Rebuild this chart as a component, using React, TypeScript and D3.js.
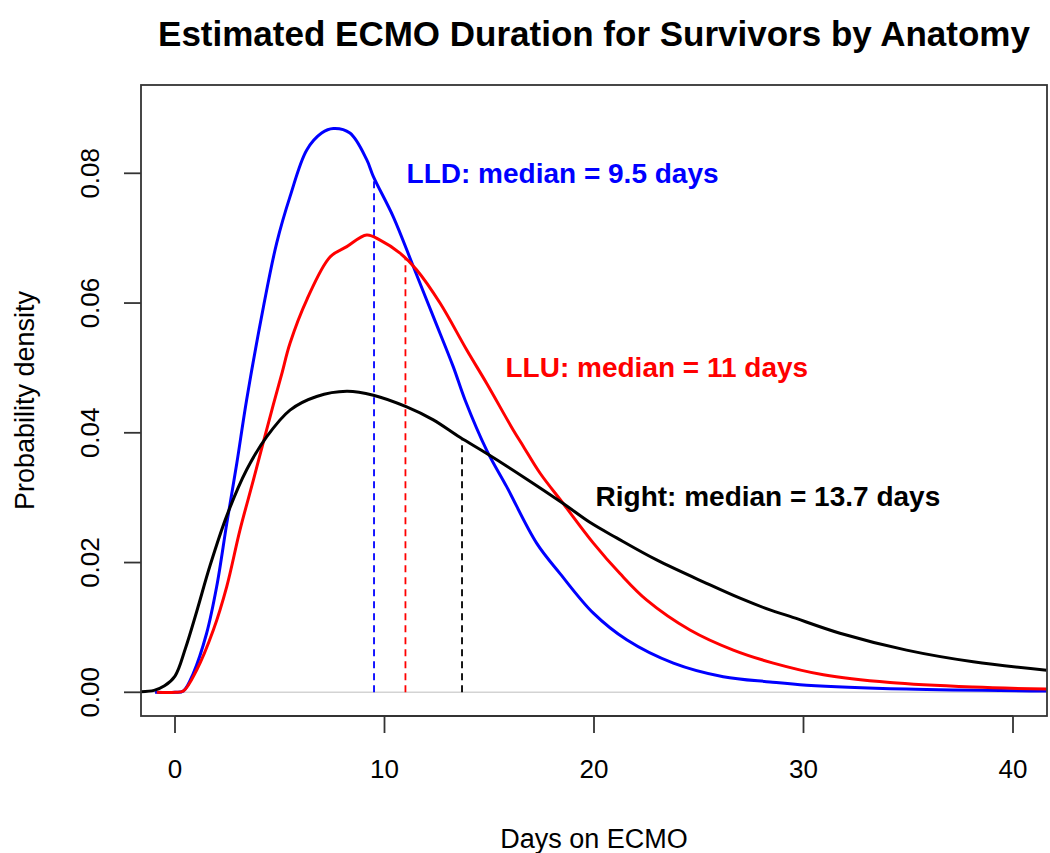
import React from "react";
import * as d3 from "d3";

const title = "Estimated ECMO Duration for Survivors by Anatomy";
const xLabel = "Days on ECMO";
const yLabel = "Probability density";
const xTicks = [0, 10, 20, 30, 40];
const yTicks = [0, 0.02, 0.04, 0.06, 0.08];
const yTickLabels = ["0.00", "0.02", "0.04", "0.06", "0.08"];

const seriesNames = ["LLD", "LLU", "Right"];
const seriesColors = ["#0000ff", "#ff0000", "#000000"];
const medians = [9.5, 11, 13.7];
const labelTexts = ["LLD: median = 9.5 days", "LLU: median = 11 days", "Right: median = 13.7 days"];
const labelX = [18.5, 23.0, 28.3];
const labelY = [0.08, 0.05, 0.0302];

const lldCurve: [number, number][] = [
  [-0.95, 0], [0, 0], [0.4, 0.0002], [0.87, 0.0029], [1.51, 0.0091], [1.99, 0.0163],
  [2.47, 0.026], [2.95, 0.0353], [3.42, 0.0451], [4.22, 0.0594], [4.85, 0.0692],
  [5.49, 0.0764], [6.29, 0.0836], [7.0, 0.0862], [7.56, 0.0869], [8.35, 0.0862],
  [9.15, 0.0821], [9.47, 0.0795], [10.42, 0.0733], [11.38, 0.0656], [12.33, 0.0579],
  [13.28, 0.0502], [13.84, 0.0451], [14.88, 0.0373], [15.83, 0.0317], [17.26, 0.023],
  [18.38, 0.0183], [19.97, 0.0122], [21.56, 0.0081], [23.79, 0.0045], [26.17, 0.0024],
  [28.4, 0.0016], [30.15, 0.0011], [34.9, 0.0005], [41.6, 0.0002],
];

const lluCurve: [number, number][] = [
  [-0.87, 0], [0, 0], [0.4, 0.0002], [1.03, 0.0034], [1.83, 0.0096], [2.47, 0.0163],
  [3.1, 0.025], [3.74, 0.0327], [4.22, 0.0386], [4.69, 0.0443], [5.09, 0.049],
  [5.49, 0.0538], [6.29, 0.0605], [7.4, 0.0671], [8.2, 0.0687], [9.15, 0.0705],
  [9.79, 0.0697], [10.74, 0.0677], [11.54, 0.0651], [12.65, 0.06], [13.92, 0.0528],
  [14.88, 0.0476], [16.15, 0.0404], [16.63, 0.0379], [17.42, 0.0338], [18.53, 0.0291],
  [19.97, 0.023], [21.24, 0.0183], [22.52, 0.0142], [24.58, 0.0096], [26.65, 0.0065],
  [28.56, 0.0045], [30.95, 0.0027], [34.13, 0.0015], [38.1, 0.0008], [41.6, 0.0005],
];

const rightCurve: [number, number][] = [
  [-1.67, 0.0001], [-1.0, 0.0003], [-0.5, 0.001], [0.0, 0.0025], [0.5, 0.0068],
  [1.04, 0.0125], [1.67, 0.0195], [2.47, 0.0272], [3.42, 0.0343], [4.38, 0.0394],
  [5.49, 0.0435], [6.76, 0.0456], [8.2, 0.0464], [9.47, 0.0458], [11.06, 0.044],
  [12.33, 0.042], [13.6, 0.0393], [14.88, 0.0368], [16.63, 0.0332], [18.53, 0.0291],
  [19.8, 0.0262], [21.08, 0.0238], [22.99, 0.0204], [25.37, 0.0168], [26.97, 0.0145],
  [28.4, 0.0127], [29.36, 0.0117], [31.74, 0.0091], [34.92, 0.0065], [38.1, 0.0047],
  [41.6, 0.0034],
];

const curves = [lldCurve, lluCurve, rightCurve];

const W = 1050;
const H = 853;
const box = { left: 141, right: 1047, top: 85, bottom: 716 };

function interp(curve: [number, number][], x: number): number {
  for (let i = 0; i < curve.length - 1; i++) {
    const [x0, y0] = curve[i];
    const [x1, y1] = curve[i + 1];
    if (x >= x0 && x <= x1) return y0 + ((y1 - y0) * (x - x0)) / (x1 - x0);
  }
  return 0;
}

export default function App() {
  const x = d3.scaleLinear().domain([0, 40]).range([175, 1013]);
  const y = d3.scaleLinear().domain([0, 0.08]).range([692.3, 173.3]);
  const line = d3
    .line<[number, number]>()
    .x((d) => x(d[0]))
    .y((d) => y(d[1]))
    .curve(d3.curveCatmullRom.alpha(0.5));
  const font = "'Liberation Sans', Arial, sans-serif";

  return (
    <svg
      width={W}
      height={H}
      style={{ position: "absolute", left: 0, top: 0, background: "#fff" }}
      fontFamily={font}
    >
      <defs>
        <clipPath id="plotclip">
          <rect x={box.left} y={box.top} width={box.right - box.left} height={box.bottom - box.top} />
        </clipPath>
      </defs>
      <text x={594} y={46} textAnchor="middle" fontSize={35} fontWeight="bold" fill="#000">
        {title}
      </text>

      <g clipPath="url(#plotclip)">
        <line x1={box.left} x2={box.right} y1={y(0)} y2={y(0)} stroke="#d3d3d3" strokeWidth={1.5} />
        {medians.map((m, i) => (
          <line
            key={"m" + i}
            x1={x(m)}
            x2={x(m)}
            y1={y(0)}
            y2={y(interp(curves[i], m))}
            stroke={seriesColors[i]}
            strokeWidth={1.8}
            strokeDasharray="7,5"
          />
        ))}
        {curves.map((c, i) => (
          <path key={seriesNames[i]} d={line(c) || ""} fill="none" stroke={seriesColors[i]} strokeWidth={3} strokeLinejoin="round" />
        ))}
      </g>

      {labelTexts.map((t, i) => (
        <text
          key={"l" + i}
          x={x(labelX[i])}
          y={y(labelY[i])}
          textAnchor="middle"
          dominantBaseline="central"
          fontSize={28}
          fontWeight="bold"
          fill={seriesColors[i]}
        >
          {t}
        </text>
      ))}

      <rect
        x={box.left}
        y={box.top}
        width={box.right - box.left}
        height={box.bottom - box.top}
        fill="none"
        stroke="#333"
        strokeWidth={1.8}
      />

      {/* x axis */}
      <line x1={x(0)} x2={x(40)} y1={box.bottom} y2={box.bottom} stroke="#333" strokeWidth={1.8} />
      {xTicks.map((t) => (
        <g key={"xt" + t}>
          <line x1={x(t)} x2={x(t)} y1={box.bottom} y2={box.bottom + 17} stroke="#333" strokeWidth={1.8} />
          <text x={x(t)} y={778} textAnchor="middle" fontSize={26} fill="#000">
            {t}
          </text>
        </g>
      ))}
      <text x={594} y={848} textAnchor="middle" fontSize={27} fill="#000">
        {xLabel}
      </text>

      {/* y axis */}
      {yTicks.map((t, i) => (
        <g key={"yt" + i}>
          <line x1={box.left - 17} x2={box.left} y1={y(t)} y2={y(t)} stroke="#333" strokeWidth={1.8} />
          <text
            transform={`translate(${99},${y(t)}) rotate(-90)`}
            textAnchor="middle"
            fontSize={26}
            fill="#000"
          >
            {yTickLabels[i]}
          </text>
        </g>
      ))}
      <text
        transform={`translate(${34},${(box.top + box.bottom) / 2}) rotate(-90)`}
        textAnchor="middle"
        fontSize={27}
        fill="#000"
      >
        {yLabel}
      </text>
    </svg>
  );
}
